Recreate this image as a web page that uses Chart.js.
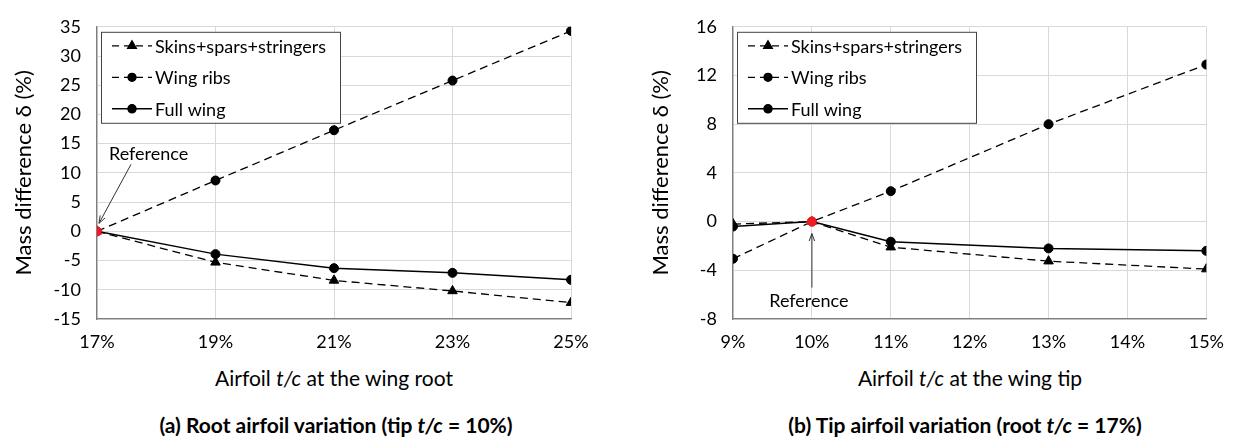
<!DOCTYPE html>
<html><head><meta charset="utf-8">
<script src="https://cdn.jsdelivr.net/npm/chart.js@4.4.0/dist/chart.umd.min.js"></script>
<style>
body{margin:0;background:#fff;width:1236px;height:442px;overflow:hidden;position:relative;font-family:Lato,sans-serif;color:#000;}
.c{position:absolute;top:0;}
.xt{position:absolute;font-size:21px;line-height:26px;transform:translateX(-50%);white-space:nowrap;}
.cap{position:absolute;font-size:21px;line-height:26px;font-weight:bold;transform:translateX(-50%);white-space:nowrap;}
</style></head><body>
<canvas id="a" class="c" style="left:0" width="618" height="360"></canvas>
<canvas id="b" class="c" style="left:618px" width="618" height="360"></canvas>
<div class="xt" style="left:334px;top:365px">Airfoil <i>t/c</i> at the wing root</div>
<div class="xt" style="left:970px;top:365px">Airfoil <i>t/c</i> at the wing tip</div>
<div class="cap" style="left:336px;top:412px">(a) Root airfoil variation (tip <i>t/c</i> = 10%)</div>
<div class="cap" style="left:965px;top:412px">(b) Tip airfoil variation (root <i>t/c</i> = 17%)</div>
<script>
// ---- data ----
const seriesNames = ['Skins+spars+stringers', 'Wing ribs', 'Full wing'];
const rootTc = [17, 19, 21, 23, 25];
const rootSkins = [0, -5.3, -8.4, -10.2, -12.2];
const rootRibs = [0, 8.7, 17.3, 25.8, 34.3];
const rootFull = [0, -3.9, -6.3, -7.1, -8.3];
const tipTc = [9, 10, 11, 13, 15];
const tipSkins = [-0.2, 0, -2.1, -3.25, -3.9];
const tipRibs = [-3.05, 0, 2.5, 8.0, 12.9];
const tipFull = [-0.4, 0, -1.65, -2.2, -2.4];
const rootXTicks = {min: 17, max: 25, step: 2};
const tipXTicks = {min: 9, max: 15, step: 1};
const rootYTicks = {min: -15, max: 35, step: 5};
const tipYTicks = {min: -8, max: 16, step: 4};
const rootRef = 17, tipRef = 10;
const yTitle = 'Mass difference \u03B4 (%)';
const refLabel = 'Reference';

const FONT = 'Lato, sans-serif';
const RED = '#ee1c24';

function pts(xs, ys) { return xs.map((x, i) => ({x: x, y: ys[i]})); }

function makeDatasets(xs, skins, ribs, full, ref) {
  const col = c => (c.raw && c.raw.x === ref) ? RED : '#000';
  const base = {pointBackgroundColor: col, pointBorderColor: col, borderColor: '#000', fill: false, tension: 0};
  return [
    Object.assign({label: seriesNames[0], data: pts(xs, skins), borderDash: [8, 5], borderWidth: 1.3, pointStyle: 'triangle', pointRadius: 5.5, pointBorderWidth: 1}, base),
    Object.assign({label: seriesNames[1], data: pts(xs, ribs), borderDash: [8, 5], borderWidth: 1.3, pointStyle: 'circle', pointRadius: 4.5, pointBorderWidth: 1}, base),
    Object.assign({label: seriesNames[2], data: pts(xs, full), borderDash: [], borderWidth: 1.5, pointStyle: 'circle', pointRadius: 4.5, pointBorderWidth: 1}, base)
  ];
}

const legendPlugin = {
  id: 'boxLegend',
  afterDatasetsDraw(chart) {
    const ctx = chart.ctx, ca = chart.chartArea;
    const bx = ca.left + 4, by = ca.top + 5, bw = 239, bh = 91;
    ctx.save();
    ctx.fillStyle = '#fff';
    ctx.fillRect(bx, by, bw, bh);
    ctx.strokeStyle = '#444';
    ctx.lineWidth = 1;
    ctx.strokeRect(bx + 0.5, by + 0.5, bw, bh);
    chart.data.datasets.forEach((ds, i) => {
      const y = by + 14 + i * 31.5;
      ctx.strokeStyle = '#000';
      ctx.lineWidth = ds.borderWidth;
      ctx.setLineDash(ds.borderDash.length ? [7, 5] : []);
      ctx.beginPath();
      ctx.moveTo(bx + 11, y); ctx.lineTo(bx + 51, y);
      ctx.stroke();
      ctx.setLineDash([]);
      ctx.fillStyle = '#000';
      Chart.helpers.drawPoint(ctx, {pointStyle: ds.pointStyle, radius: ds.pointRadius - 0.5, borderWidth: 1, rotation: 0}, bx + 31, y);
      ctx.fill();
      ctx.font = '18px ' + FONT;
      ctx.textBaseline = 'middle';
      ctx.textAlign = 'left';
      ctx.fillText(ds.label, bx + 54, y + 1);
    });
    ctx.restore();
  }
};

function arrow(ctx, x1, y1, x2, y2) {
  const a = Math.atan2(y2 - y1, x2 - x1), L = 8, w = 0.35;
  ctx.beginPath();
  ctx.moveTo(x1, y1); ctx.lineTo(x2, y2); ctx.stroke();
  ctx.beginPath();
  ctx.moveTo(x2 - L * Math.cos(a - w), y2 - L * Math.sin(a - w));
  ctx.lineTo(x2, y2);
  ctx.lineTo(x2 - L * Math.cos(a + w), y2 - L * Math.sin(a + w));
  ctx.stroke();
}

function refPlugin(ref, mode) {
  return {
    id: 'refNote',
    afterDraw(chart) {
      const ctx = chart.ctx;
      const px = chart.scales.x.getPixelForValue(ref), py = chart.scales.y.getPixelForValue(0);
      ctx.save();
      ctx.strokeStyle = '#333'; ctx.lineWidth = 1; ctx.fillStyle = '#000';
      ctx.font = '18px ' + FONT; ctx.textBaseline = 'middle';
      if (mode === 'left') {
        ctx.textAlign = 'left';
        ctx.fillText(refLabel, px + 12, py - 77);
        arrow(ctx, px + 34, py - 67, px + 2, py - 8);
      } else {
        ctx.textAlign = 'center';
        ctx.fillText(refLabel, px - 3, py + 80);
        arrow(ctx, px, py + 66, px, py + 12);
      }
      ctx.restore();
    }
  };
}

function makeChart(id, xs, skins, ribs, full, ref, xt, yt, yWidth, titlePad, padRight, mode) {
  return new Chart(document.getElementById(id), {
    type: 'line',
    data: {datasets: makeDatasets(xs, skins, ribs, full, ref)},
    options: {
      responsive: false, animation: false, devicePixelRatio: 1,
      layout: {padding: {top: 17, right: padRight, bottom: 0, left: 0}},
      plugins: {legend: {display: false}, tooltip: {enabled: false}},
      scales: {
        x: {
          type: 'linear', min: xt.min, max: xt.max,
          afterFit: s => { s.height = 41; },
          afterBuildTicks: s => { const t = []; for (let v = xt.min; v <= xt.max + 1e-9; v += xt.step) t.push({value: v}); s.ticks = t; },
          ticks: {callback: v => v + '%', font: {family: FONT, size: 18}, color: '#000', padding: 12, maxRotation: 0, autoSkip: false},
          grid: {color: '#d9d9d9', lineWidth: 1, drawTicks: false},
          border: {color: '#7f7f7f', width: 1.3}
        },
        y: {
          type: 'linear', min: yt.min, max: yt.max,
          afterFit: s => { s.width = yWidth; },
          afterBuildTicks: s => { const t = []; for (let v = yt.min; v <= yt.max + 1e-9; v += yt.step) t.push({value: v}); s.ticks = t; },
          ticks: {font: {family: FONT, size: 18}, color: '#000', padding: 16},
          grid: {color: '#d9d9d9', lineWidth: 1, drawTicks: false},
          border: {color: '#7f7f7f', width: 1.3},
          title: {display: true, text: yTitle, font: {family: FONT, size: 22}, color: '#000', padding: {top: titlePad, bottom: 0}}
        }
      }
    },
    plugins: [legendPlugin, refPlugin(ref, mode)]
  });
}

makeChart('a', rootTc, rootSkins, rootRibs, rootFull, rootRef, rootXTicks, rootYTicks, 97, 11, 47, 'left');
makeChart('b', tipTc, tipSkins, tipRibs, tipFull, tipRef, tipXTicks, tipYTicks, 115, 30, 29, 'right');
</script>
</body></html>
